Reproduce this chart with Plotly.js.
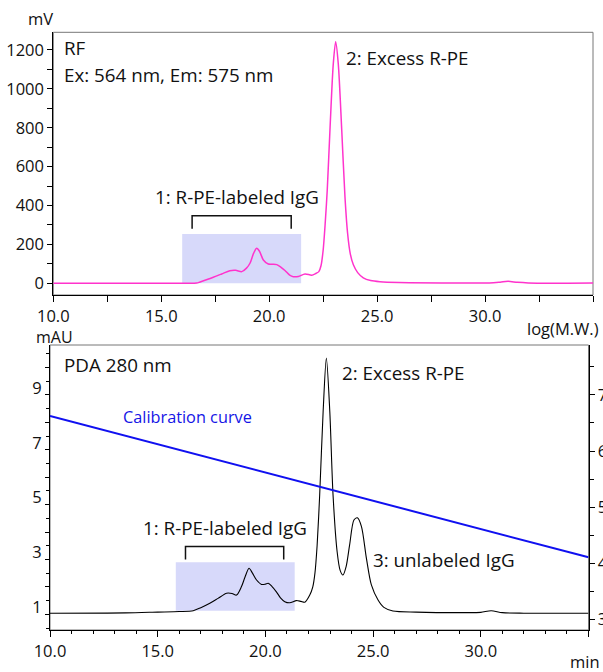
<!DOCTYPE html>
<html>
<head>
<meta charset="utf-8">
<script src="https://cdn.plot.ly/plotly-3.0.1.min.js"></script>
<style>html,body{margin:0;padding:0;background:#fff;}#chart{width:603px;height:672px;}</style>
</head>
<body>
<div id="chart"></div>
<script>
// ---- Data ----
// RF detector (Ex 564 nm / Em 575 nm), mV vs. retention time (min)
const rfTime = [10, 14, 16.0, 16.64, 16.8, 17.41, 17.8, 18.18, 18.45, 18.73, 18.95, 19.11, 19.28, 19.42, 19.55, 19.73, 19.96, 20.15, 20.35, 20.55, 20.73, 20.95, 21.12, 21.35, 21.66, 21.97, 22.15, 22.3, 22.4, 22.5, 22.59, 22.69, 22.82, 22.97, 23.08, 23.2, 23.36, 23.51, 23.63, 23.76, 23.9, 24.1, 24.36, 24.7, 25.13, 26, 28, 30.2, 30.7, 31.07, 31.5, 32, 35];
const rfSignal = [0, 0, 0, 1, 7, 31, 48, 65, 67, 60, 78, 103, 155, 180, 165, 120, 99, 98, 96, 82, 66, 42, 34, 35, 48, 42, 50, 60, 90, 170, 300, 480, 800, 1130, 1243, 1130, 790, 446, 260, 150, 95, 55, 28, 14, 8, 4, 2, 2, 6, 10, 5, 2, 1];

// PDA 280 nm, mAU vs. retention time (min)
const pdaTime = [10, 13.5, 15.0, 16.0, 16.65, 17.0, 17.42, 17.8, 18.2, 18.45, 18.66, 18.89, 19.05, 19.24, 19.4, 19.59, 19.82, 20.0, 20.13, 20.3, 20.51, 20.7, 20.9, 21.13, 21.44, 21.65, 21.83, 22.06, 22.2, 22.3, 22.4, 22.52, 22.68, 22.83, 22.99, 23.14, 23.33, 23.47, 23.6, 23.75, 23.91, 24.11, 24.27, 24.46, 24.69, 24.92, 25.23, 25.5, 25.92, 27, 29.3, 30.0, 30.48, 31.0, 32, 35];
const pdaAbs = [1.04, 1.05, 1.08, 1.10, 1.13, 1.24, 1.40, 1.58, 1.77, 1.76, 1.70, 2.01, 2.35, 2.68, 2.50, 2.25, 2.09, 2.10, 2.13, 2.02, 1.82, 1.60, 1.46, 1.42, 1.50, 1.47, 1.44, 1.70, 2.0, 2.5, 3.5, 5.35, 8.39, 10.34, 8.39, 5.35, 3.28, 2.60, 2.43, 2.75, 3.53, 4.44, 4.52, 4.20, 3.04, 2.07, 1.52, 1.25, 1.12, 1.08, 1.06, 1.07, 1.13, 1.06, 1.04, 1.04];

// Calibration curve, log(M.W.) vs. retention time (min)
const calTime = [10, 35];
const calLogMW = [6.625, 4.106];

// Axis tick labels
const topXTicks = [10, 12.5, 15, 17.5, 20, 22.5, 25, 27.5, 30, 32.5, 35];
const topXText = ['10.0', '', '15.0', '', '20.0', '', '25.0', '', '30.0', '', '35.0'];
const botXTicks = [10, 15, 20, 25, 30, 35];
const botXText = ['10.0', '15.0', '20.0', '25.0', '30.0', '35.0'];
const mauTicks = [1, 2, 3, 4, 5, 6, 7, 8, 9, 10];
const mauText = ['1', '', '3', '', '5', '', '7', '', '9', ''];
const logTicks = [3, 4, 5, 6, 7];

// Peak labels and marked regions
const rfRegion = {x0: 15.97, x1: 21.48, y0: 0, y1: 254};
const rfBracket = {x0: 16.43, x1: 21.02, yTop: 347, yLeg: 280};
const pdaRegion = {x0: 15.84, x1: 21.36, y0: 1.13, y1: 2.90};
const pdaBracket = {x0: 16.29, x1: 20.85, yTop: 3.47, yLeg: 3.0};

// ---- Layout helpers ----
const W = 603, H = 672;
const px = v => v / W;
const py = v => 1 - v / H;
const FONT = 'Open Sans, Noto Sans, sans-serif';
const ANN_SIZE = 18.8;

const traces = [
  {x: rfTime, y: rfSignal, xaxis: 'x', yaxis: 'y', mode: 'lines',
   line: {color: '#ff33cc', width: 1.5, shape: 'spline', smoothing: 0.8}, hoverinfo: 'skip'},
  {x: pdaTime, y: pdaAbs, xaxis: 'x2', yaxis: 'y2', mode: 'lines',
   line: {color: '#000000', width: 1.1, shape: 'spline', smoothing: 0.8}, hoverinfo: 'skip'},
  {x: calTime, y: calLogMW, xaxis: 'x2', yaxis: 'y3', mode: 'lines',
   line: {color: '#1010f0', width: 2}, hoverinfo: 'skip'}
];

const tickFont = {family: FONT, size: 16.5, color: '#111'};
const baseAxis = {showgrid: false, zeroline: false, showline: true, linecolor: '#000', linewidth: 1,
  ticks: 'outside', tickcolor: '#000', tickwidth: 1, tickfont: tickFont, fixedrange: true};

function ann(text, x, y, xanchor, opts) {
  return Object.assign({text: text, x: px(x), y: py(y), xref: 'paper', yref: 'paper',
    xanchor: xanchor, yanchor: 'middle', showarrow: false,
    font: {family: FONT, size: ANN_SIZE, color: '#111'}}, opts || {});
}

const layout = {
  width: W, height: H,
  margin: {l: 0, r: 0, t: 0, b: 0},
  paper_bgcolor: '#fff', plot_bgcolor: '#fff',
  showlegend: false,
  xaxis: Object.assign({}, baseAxis, {domain: [px(53.3), px(593)], anchor: 'y', range: [10, 35],
    tickmode: 'array', tickvals: topXTicks, ticktext: topXText, ticklen: 6}),
  yaxis: Object.assign({}, baseAxis, {domain: [py(295), py(32.3)], anchor: 'x', range: [-60.2, 1291],
    tickmode: 'linear', tick0: 0, dtick: 200, ticklen: 5,
    minor: {dtick: 100, tick0: 0, ticks: 'outside', ticklen: 5, tickcolor: '#000'}}),
  xaxis2: Object.assign({}, baseAxis, {domain: [px(50), px(588.5)], anchor: 'y2', range: [10, 35],
    tickmode: 'array', tickvals: botXTicks, ticktext: botXText, ticklen: 6,
    minor: {dtick: 1, tick0: 10, ticks: 'outside', ticklen: 3, tickcolor: '#000'}}),
  yaxis2: Object.assign({}, baseAxis, {domain: [py(630), py(345)], anchor: 'x2', range: [0.427, 10.82],
    tickmode: 'array', tickvals: mauTicks, ticktext: mauText, ticklen: 4, ticklabelshift: -7,
    minor: {dtick: 0.5, tick0: 0.5, ticks: 'outside', ticklen: 3, tickcolor: '#000'}}),
  yaxis3: Object.assign({}, baseAxis, {overlaying: 'y2', side: 'right', anchor: 'x2', range: [2.81, 7.89],
    tickmode: 'array', tickvals: logTicks, ticklen: 5,
    minor: {dtick: 0.5, tick0: 2.5, ticks: 'outside', ticklen: 4, tickcolor: '#000'}}),
  shapes: [
    {type: 'rect', xref: 'x', yref: 'y', x0: rfRegion.x0, x1: rfRegion.x1, y0: rfRegion.y0, y1: rfRegion.y1,
     fillcolor: '#d7d9fa', line: {width: 0}, layer: 'below'},
    {type: 'rect', xref: 'x2', yref: 'y2', x0: pdaRegion.x0, x1: pdaRegion.x1, y0: pdaRegion.y0, y1: pdaRegion.y1,
     fillcolor: '#d7d9fa', line: {width: 0}, layer: 'below'},
    {type: 'path', xref: 'x', yref: 'y',
     path: `M ${rfBracket.x0},${rfBracket.yLeg} L ${rfBracket.x0},${rfBracket.yTop} L ${rfBracket.x1},${rfBracket.yTop} L ${rfBracket.x1},${rfBracket.yLeg}`,
     line: {color: '#111', width: 1.5}},
    {type: 'path', xref: 'x2', yref: 'y2',
     path: `M ${pdaBracket.x0},${pdaBracket.yLeg} L ${pdaBracket.x0},${pdaBracket.yTop} L ${pdaBracket.x1},${pdaBracket.yTop} L ${pdaBracket.x1},${pdaBracket.yLeg}`,
     line: {color: '#111', width: 1.5}},
    {type: 'rect', xref: 'x domain', yref: 'y domain', x0: 0, x1: 1, y0: 0, y1: 1,
     line: {color: '#777', width: 1}, layer: 'below'},
    {type: 'rect', xref: 'x2 domain', yref: 'y2 domain', x0: 0, x1: 1, y0: 0, y1: 1,
     line: {color: '#777', width: 1}, layer: 'below'}
  ],
  annotations: [
    ann('mV', 40, 18, 'center', {font: {family: FONT, size: 16.5, color: '#111'}}),
    ann('RF', 62, 48, 'left'),
    ann('Ex: 564 nm, Em: 575 nm', 62, 75, 'left'),
    ann('1: R-PE-labeled IgG', 153, 197, 'left'),
    ann('2: Excess R-PE', 344, 58, 'left'),
    ann('log(M.W.)', 601, 328, 'right', {font: {family: FONT, size: 16.5, color: '#111'}}),
    ann('mAU', 54, 337, 'center', {font: {family: FONT, size: 16, color: '#111'}}),
    ann('PDA 280 nm', 62, 365, 'left'),
    ann('Calibration curve', 121, 417, 'left', {font: {family: FONT, size: 16.3, color: '#1414e6'}}),
    ann('1: R-PE-labeled IgG', 141, 528, 'left'),
    ann('2: Excess R-PE', 340, 373, 'left'),
    ann('3: unlabeled IgG', 371, 560, 'left'),
    ann('min', 585, 661, 'center', {font: {family: FONT, size: 16.5, color: '#111'}})
  ]
};

Plotly.newPlot('chart', traces, layout, {staticPlot: true, displayModeBar: false});
</script>
</body>
</html>
